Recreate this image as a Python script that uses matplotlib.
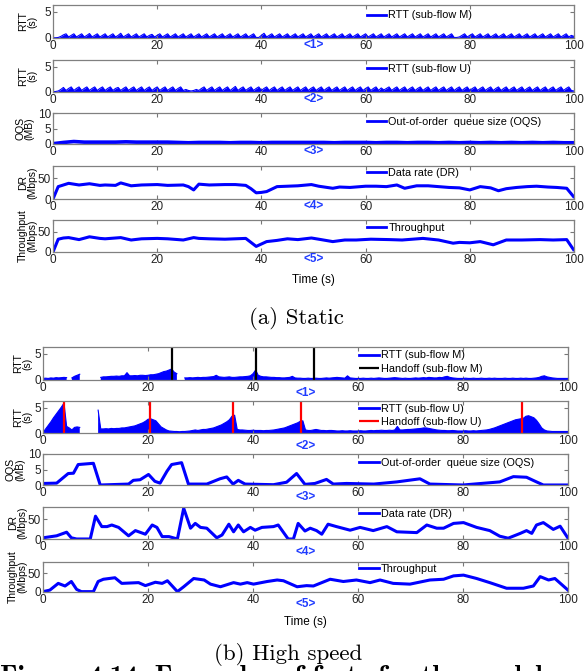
import numpy as np
import matplotlib.pyplot as plt
from matplotlib.lines import Line2D

plt.rcParams['font.family'] = ['Liberation Sans', 'DejaVu Sans']

# ---------------- (a) Static ----------------
# RTT samples every 0.5 s, 0..100 s
rtt_m_static = [
    0.05, 0.05, 0.1, 0.3, 0.6, 0.8, 0.2, 0.5, 0.8, 0.2, 0.5, 0.8, 0.2, 0.5, 0.85, 0.2, 0.5, 0.8, 0.2, 0.5,
    0.8, 0.2, 0.5, 0.8, 0.2, 0.5, 0.9, 0.2, 0.5, 0.8, 0.2, 0.5, 0.8, 0.2, 0.5, 0.8, 0.2, 0.5, 0.7, 0.2,
    0.5, 0.8, 0.2, 0.5, 0.8, 0.2, 0.5, 0.8, 0.2, 0.5, 0.8, 0.2, 0.5, 0.8, 0.2, 0.5, 0.8, 0.2, 0.5, 0.8,
    0.2, 0.5, 0.8, 0.2, 0.5, 0.8, 0.2, 0.5, 0.8, 0.2, 0.5, 0.8, 0.2, 0.5, 0.8, 0.2, 0.5, 0.8, 0.1, 0.1,
    0.5, 0.9, 0.2, 0.5, 0.8, 0.2, 0.5, 0.8, 0.2, 0.5, 0.8, 0.2, 0.5, 0.8, 0.2, 0.5, 0.8, 0.2, 0.5, 0.8,
    0.2, 0.5, 0.8, 0.2, 0.5, 0.8, 0.2, 0.5, 0.8, 0.2, 0.5, 0.8, 0.2, 0.5, 0.8, 0.2, 0.5, 0.8, 0.2, 0.5,
    0.8, 0.2, 0.5, 0.8, 0.2, 0.5, 0.8, 0.2, 0.5, 0.8, 0.2, 0.5, 0.8, 0.2, 0.5, 0.8, 0.2, 0.5, 0.8, 0.2,
    0.5, 0.8, 0.2, 0.5, 0.8, 0.2, 0.5, 0.8, 0.2, 0.5, 0.8, 0.2, 0.5, 0.8, 0.1, 0.1, 0.2, 0.5, 0.8, 0.2,
    0.5, 0.8, 0.2, 0.5, 0.8, 0.2, 0.5, 0.8, 0.2, 0.5, 0.8, 0.2, 0.5, 0.8, 0.2, 0.5, 0.8, 0.2, 0.5, 0.8,
    0.2, 0.5, 0.8, 0.2, 0.5, 0.8, 0.2, 0.5, 0.8, 0.2, 0.5, 0.8, 0.2, 0.5, 0.8, 0.2, 0.5, 0.8, 0.2, 0.5,
    0.3]
rtt_u_static = [
    0.05, 0.1, 0.2, 0.5, 0.9, 0.3, 0.7, 1.0, 0.3, 0.7, 1.0, 0.3, 0.7, 1.0, 0.3, 0.7, 1.0, 0.3, 0.7, 1.0,
    0.3, 0.7, 1.0, 0.3, 0.7, 0.9, 0.3, 0.7, 1.0, 0.3, 0.7, 1.0, 0.3, 0.7, 1.0, 0.3, 0.7, 1.0, 0.3, 0.7,
    1.0, 0.3, 0.7, 1.0, 0.3, 0.7, 1.0, 0.3, 0.7, 1.0, 0.3, 0.5, 0.3, 0.2, 0.3, 0.5, 0.3, 0.7, 1.0, 0.3,
    0.7, 1.0, 0.3, 0.7, 1.0, 0.3, 0.7, 1.0, 0.3, 0.7, 1.1, 0.3, 0.7, 1.0, 0.3, 0.7, 1.0, 0.3, 0.7, 1.0,
    0.3, 0.7, 1.0, 0.3, 0.7, 1.0, 0.3, 0.7, 1.0, 0.3, 0.7, 1.0, 0.3, 0.7, 1.0, 0.3, 0.7, 1.0, 0.3, 0.7,
    1.0, 0.3, 0.7, 1.0, 0.3, 0.7, 1.0, 0.3, 0.7, 1.0, 0.3, 0.7, 1.0, 0.3, 0.7, 1.0, 0.3, 0.7, 1.0, 0.3,
    0.7, 1.0, 0.3, 0.7, 1.0, 0.3, 0.8, 0.4, 0.7, 1.0, 0.3, 0.7, 1.0, 0.3, 0.7, 1.0, 0.3, 0.7, 1.0, 0.3,
    0.7, 1.0, 0.3, 0.7, 1.0, 0.3, 0.7, 1.0, 0.3, 0.7, 1.0, 0.3, 0.7, 1.0, 0.3, 0.7, 1.0, 0.3, 0.7, 1.0,
    0.3, 0.7, 1.0, 0.3, 0.7, 1.0, 0.3, 0.7, 1.0, 0.3, 0.7, 1.0, 0.3, 0.7, 1.0, 0.3, 0.7, 1.0, 0.3, 0.7,
    1.0, 0.3, 0.7, 1.0, 0.3, 0.7, 1.0, 0.3, 0.7, 1.0, 0.3, 0.7, 1.0, 0.3, 0.7, 1.0, 0.3, 0.7, 1.0, 0.3,
    0.2]

# OQS every 2 s
oqs_static = [0.1, 0.5, 0.8, 0.6, 0.6, 0.6, 0.6, 0.7, 0.6, 0.6, 0.6, 0.6, 0.5, 0.4, 0.5, 0.5, 0.5,
              0.4, 0.5, 0.5, 0.4, 0.5, 0.5, 0.5, 0.5, 0.5, 0.5, 0.4, 0.5, 0.5, 0.5, 0.4, 0.5, 0.5,
              0.4, 0.5, 0.5, 0.4, 0.5, 0.4, 0.5, 0.4, 0.5, 0.4, 0.5, 0.4, 0.5, 0.4, 0.5, 0.4, 0.4]

dr_static_t = [0, 1, 2, 3, 5, 7, 9, 10, 12, 13, 15, 17, 20, 22, 25, 26, 27, 28, 30, 33,
               35, 37, 38, 39, 40, 41, 43, 45, 47, 49.6, 51, 53.7, 55, 57, 60, 62, 64, 66, 67.5, 69.8,
               72, 74, 76, 78, 80, 82, 84, 85.5, 87, 89, 91, 92.8, 95, 96.7, 98.6, 99.9]
dr_static = [0, 30, 34, 38, 34, 37, 33, 34, 33, 39, 32, 34, 35, 33, 34, 30, 22, 36, 34, 35,
             35, 33, 25, 15, 16, 18, 30, 31, 32, 35, 31, 26, 29, 28, 31, 31, 30, 34, 26, 32,
             32, 30, 28, 27, 22, 30, 27, 20, 25, 28, 30, 31, 29, 28, 26, 6]

tp_static_t = [0, 1, 2, 3, 5, 7, 9, 10, 12, 13, 15, 17, 20, 22, 25, 27, 28, 30, 33, 35,
               37, 39, 41, 43, 45, 47, 49.6, 51, 53.7, 56, 58.2, 61, 64.6, 67, 71, 74, 76.8, 78, 80, 82,
               84.5, 87, 90, 93.5, 96, 98.6, 99.9]
tp_static = [0, 32, 35, 36, 31, 38, 34, 33, 35, 36, 30, 33, 34, 33, 30, 36, 34, 33, 32, 33,
             34, 14, 26, 29, 33, 31, 35, 32, 26, 30, 30, 32, 31, 30, 34, 30, 22, 24, 23, 26,
             18, 30, 30, 31, 30, 31, 6]

# ---------------- (b) High speed ----------------
nan = np.nan
rtt_m_speed = [
    0.3, 0.35, 0.3, 0.4, 0.35, 0.45, 0.4, 0.45, 0.5, 0.45, nan, 0.4, 0.7, 0.9, 1.1,
    nan, nan, nan, nan, nan, nan, nan,
    0.5, 0.6, 0.6, 0.65, 0.7, 0.7, 0.75, 0.7, 0.8, 0.8, 1.4, 0.8, 0.8, 0.85, 0.8,
    0.9, 0.9, 0.85, 0.9, 1.0, 1.0, 1.1, 1.2, 1.4, 1.6, 1.7, 1.9, 2.1, 1.5, 1.2,
    nan, nan,
    0.4, 0.4, 0.45, 0.4, 0.45, 0.5, 0.45, 0.5, 0.5, 0.55, 0.6, 0.65, 0.9, 0.6, 0.55, 0.5,
    0.55, 0.6, 0.5, 0.5, 0.55, 0.6, 0.6, 0.65, 0.7, 0.8,
    1.2, 1.9, 0.9, 0.7, 0.6, 0.6, 0.55, 0.5, 0.5, 0.45, 0.45, 0.4, 0.4, 0.45, 0.5, 0.7, 0.4, 0.35, 0.35, 0.3,
    0.3, 0.35, 0.3, 0.3, 0.35, 0.3, 0.3, 0.35, 0.4, 0.35, 0.4, 0.45, 0.5, 0.45, 0.4, 0.35, 0.8, 0.4, 0.35, 0.3,
    0.3, 0.3, 0.35, 0.3, 0.3, 0.35, 0.3, 0.35, 0.4, 0.35, 0.3, 0.3, 0.35, 0.4, 0.45, 0.4, 0.35, 0.3, 0.35, 0.3,
    0.3, 0.35, 0.4, 0.35, 0.4, 0.45, 0.4, 0.5, 0.45, 0.4, 0.4, 0.5, 0.45, 0.6, 0.7, 0.5, 0.4, 0.35, 0.3, 0.3,
    0.3, 0.35, 0.3, 0.3, 0.35, 0.3, 0.3, 0.35, 0.3, 0.3, 0.35, 0.3, 0.35, 0.3, 0.3, 0.3, 0.35, 0.3, 0.3, 0.35,
    0.3, 0.3, 0.35, 0.3, 0.35, 0.3, 0.3, 0.35, 0.4, 0.5, 0.7, 0.8, 0.6, 0.5, 0.4, 0.35, 0.3, 0.3, 0.3, 0.3,
    0.3]
rtt_u_speed = [
    0.1, 0.8, 1.5, 2.2, 3.0, 3.7, 4.4, 5.1, 5.9, 1.3, 1.0, 0.6, 1.1, 1.2, 1.1,
    nan, nan, nan, nan, nan, nan, 4.5, 0.8,
    0.8, 0.85, 0.8, 0.9, 0.85, 0.9, 0.9, 1.0, 1.0, 1.1, 1.2, 1.3, 1.4, 1.6, 1.8, 2.0, 2.3, 2.7,
    2.8, 2.6, 2.4, 1.8, 1.2, 0.9, 0.6, 0.4, 0.35, 0.3, 0.3, 0.25, 0.3, 0.3, 0.35, 0.4, 0.5, 0.6, 0.5,
    0.6, 0.7, 0.7, 0.8, 0.9, 1.0, 1.2, 1.4, 1.6, 1.9, 2.2, 2.6,
    3.3, 3.5, 0.7, 0.6,
    0.6, 0.55, 0.5, 0.5, 0.55, 0.5, 0.5, 0.5, 0.45, 0.5, 0.5, 0.55, 0.6, 0.7, 0.8, 0.9, 1.0, 1.2, 1.4, 1.6,
    1.8, 2.0, 2.3, 2.4, 0.6,
    0.5, 0.5, 0.6, 0.7, 0.6, 0.5, 0.5, 0.45, 0.5, 0.5, 0.45, 0.4, 0.4, 0.45, 0.4, 0.4, 0.45, 0.4, 0.4,
    0.4, 0.45, 0.4, 0.4, 0.45, 0.5, 0.45, 0.5, 0.5, 0.55, 0.5, 0.5, 0.55, 0.5, 0.6, 1.3, 0.6, 0.6, 0.65, 0.7,
    0.7, 0.75, 0.8, 0.85, 0.9, 1.0, 1.0, 0.9, 0.8, 0.7, 0.6, 0.55, 0.5, 0.5, 0.45, 0.45, 0.5, 0.45, 0.4, 0.4,
    0.4, 0.45, 0.4, 0.4, 0.45, 0.4, 0.45, 0.5, 0.55, 0.6, 0.7, 0.85, 1.0, 1.2, 1.4, 1.6, 1.8, 2.0, 2.2, 2.4,
    2.6, 2.7, 2.8, 2.9, 3.3, 3.4, 3.2, 3.0, 2.5, 1.8, 1.0, 0.6, 0.4, 0.35, 0.3, 0.3, 0.3, 0.3, 0.3, 0.3,
    0.3]
handoff_m = [24.5, 40.6, 51.6]
handoff_u = [4.0, 20.4, 36.1, 49.1, 91.2]

oqs_speed_t = [0, 2.6, 4.8, 5.8, 6.7, 9.6, 10.9, 16.3, 17.2, 18.5, 20.1, 21.3, 22.3, 23.6, 24.5,
               26.4, 27.7, 31.2, 33.7, 35, 36.2, 37.2, 38.5, 43.9, 46.4, 48.3, 49.9, 51.8, 54, 55.3,
               57.8, 63, 67.4, 71.8, 73.7, 80, 87, 89.6, 92.1, 94, 95.3, 100]
oqs_speed = [0.5, 0.6, 3.7, 3.8, 6.6, 7, 0, 0.3, 1.5, 1.7, 3.4, 1.2, 0.6, 4.4, 6.6,
             7.2, 0.3, 0.3, 2, 2.6, 0.3, 1.5, 0.3, 0.1, 0.9, 3.7, 0.2, 0.5, 1.8, 0.3,
             0.5, 0.3, 1, 2, 0.3, 0, 1, 2.7, 2.5, 1, 0, 0]

dr_speed_t = [0, 2.6, 4.5, 5.4, 6.4, 9, 10, 11.2, 12.2, 13.1, 14.4, 16.3, 17.6, 19.5, 20.8, 21.7,
              22.7, 24, 25.6, 26.8, 28.1, 29, 30, 31.2, 33.1, 34.1, 35.4, 36.3, 37.2, 38.2, 39.5,
              40.4, 41.7, 43.9, 44.8, 46.7, 47.7, 48.6, 49.9, 50.9, 52.1, 53.1, 54.3, 55.9, 58.5,
              60.4, 62.9, 65.5, 67.4, 71.2, 73.1, 75, 76.3, 78.2, 80.1, 82.6, 85.1, 87, 88.6, 90.9,
              92.1, 93.1, 94, 95.3, 97.2, 98.5, 100]
dr_speed = [3, 8, 17, 3, 0, 0, 57, 31, 31, 35, 29, 8, 21, 12, 35, 29,
            6, 6, 0, 77, 27, 39, 29, 27, 3, 10, 37, 18, 35, 18, 29,
            22, 29, 31, 35, 0, 0, 39, 20, 27, 21, 12, 37, 31, 22,
            29, 21, 31, 18, 16, 35, 27, 27, 39, 41, 29, 21, 7, 2, 14,
            21, 14, 35, 41, 24, 32, 2]

tp_speed_t = [0, 1.3, 2.9, 4.2, 5.4, 6.4, 7.3, 9.6, 10.5, 11.5, 13.7, 15, 18.2, 19.5, 21.4, 22.7,
              23.7, 25.6, 26.8, 28.7, 30.7, 31.9, 33.8, 36.3, 37.6, 38.9, 40.1, 42.7, 44.6, 45.8,
              48.4, 50.2, 51.5, 54.7, 57.2, 59.7, 62.3, 64.2, 66.7, 69.9, 73.7, 76.3, 78.2, 80.1,
              82.6, 85.1, 88.3, 91.5, 93.4, 94.7, 96.3, 97.5, 100]
tp_speed = [1, 5, 23, 16, 28, 7, 1, 1, 28, 34, 38, 23, 25, 17, 26, 23,
            30, 1, 14, 36, 32, 21, 14, 25, 21, 25, 21, 28, 32, 30,
            14, 17, 16, 34, 28, 32, 25, 32, 23, 21, 32, 34, 43, 45,
            36, 25, 10, 10, 16, 41, 32, 36, 5]

t_rtt_a = np.arange(len(rtt_m_static)) * 0.5
t_rtt_au = np.arange(len(rtt_u_static)) * 0.5
t_oqs_a = np.arange(len(oqs_static)) * 2.0
t_rtt_bm = np.arange(len(rtt_m_speed)) * 0.5
t_rtt_bu = np.arange(len(rtt_u_speed)) * 0.5

BLUE = '#0000ff'
TAG = '#1f3bff'
W, H = 588, 671

fig = plt.figure(figsize=(W / 100, H / 100), dpi=100)


def panel(l, r, top, bot, ylim, yticks, ylabel, tag, lab_x, tag_y, ysize=7.5):
    ax = fig.add_axes([l / W, 1 - bot / H, (r - l) / W, (bot - top) / H])
    ax.set_xlim(0, 100)
    ax.set_ylim(*ylim)
    ax.set_xticks([0, 20, 40, 60, 80, 100])
    ax.set_yticks(yticks)
    ax.tick_params(direction='in', top=True, right=True, length=3, width=0.8,
                   colors='#777777', labelcolor='#222222', labelsize=8.5, pad=1.5)
    for s in ax.spines.values():
        s.set_color('#808080')
        s.set_linewidth(0.9)
    ax.set_ylabel(ylabel, fontsize=ysize, linespacing=0.95)
    ax.yaxis.set_label_coords(lab_x, 0.5)
    ax.text(0.5, tag_y, tag, transform=ax.transAxes, ha='center', va='center',
            color=TAG, fontweight='bold', fontsize=8.5)
    return ax


def legend(ax, handles, y):
    ax.legend(handles=handles, loc='upper left', bbox_to_anchor=(0.6, y),
              frameon=False, fontsize=7.8, handlelength=1.8, handletextpad=0.2,
              borderpad=0.1, labelspacing=0.3, borderaxespad=0)


def blue_handle(label):
    return Line2D([], [], color=BLUE, lw=2, label=label)


# ---- group (a)
la, ra = 53, 574
ax = panel(la, ra, 5, 38, (0, 6.3), [0, 5], 'RTT\n(s)', '<1>', -0.03, -0.22)
ax.fill_between(t_rtt_a, 0, rtt_m_static, color=BLUE, lw=0)
ax.plot(t_rtt_a, rtt_m_static, color=BLUE, lw=0.8)
legend(ax, [blue_handle('RTT (sub-flow M)')], 0.87)

ax = panel(la, ra, 60, 92, (0, 6.3), [0, 5], 'RTT\n(s)', '<2>', -0.03, -0.22)
ax.fill_between(t_rtt_au, 0, rtt_u_static, color=BLUE, lw=0)
ax.plot(t_rtt_au, rtt_u_static, color=BLUE, lw=0.8)
legend(ax, [blue_handle('RTT (sub-flow U)')], 0.92)

ax = panel(la, ra, 113, 144, (0, 10), [0, 5, 10], 'OQS\n(MB)', '<3>', -0.035, -0.22)
ax.plot(t_oqs_a, oqs_static, color=BLUE, lw=2.6)
legend(ax, [blue_handle('Out-of-order  queue size (OQS)')], 0.9)

ax = panel(la, ra, 166, 199, (0, 80), [0, 50], 'DR\n(Mbps)', '<4>', -0.03, -0.22)
ax.plot(dr_static_t, dr_static, color=BLUE, lw=2.2)
legend(ax, [blue_handle('Data rate (DR)')], 0.98)

ax = panel(la, ra, 220, 252, (0, 80), [0, 50], 'Throughput\n(Mbps)', '<5>', -0.03, -0.22)
ax.plot(tp_static_t, tp_static, color=BLUE, lw=2.2)
legend(ax, [blue_handle('Throughput')], 0.95)
ax.text(0.5, -0.875, 'Time (s)', transform=ax.transAxes, ha='center', va='center', fontsize=8.5)

# ---- group (b)
lb, rb = 43, 568
ax = panel(lb, rb, 347, 380, (0, 6.3), [0, 5], 'RTT\n(s)', '<1>', -0.02, -0.4)
ax.fill_between(t_rtt_bm, 0, rtt_m_speed, color=BLUE, lw=0)
ax.plot(t_rtt_bm, rtt_m_speed, color=BLUE, lw=0.8)
hk = ax.vlines(handoff_m, 0, 6.3, color='black', lw=1.6, label='Handoff (sub-flow M)')
legend(ax, [blue_handle('RTT (sub-flow M)'), hk], 0.93)

ax = panel(lb, rb, 401, 433, (0, 6.3), [0, 5], 'RTT\n(s)', '<2>', -0.02, -0.4)
ax.fill_between(t_rtt_bu, 0, rtt_u_speed, color=BLUE, lw=0)
ax.plot(t_rtt_bu, rtt_u_speed, color=BLUE, lw=0.8)
hr = ax.vlines(handoff_u, 0, 6.3, color='red', lw=1.6, label='Handoff (sub-flow U)')
legend(ax, [blue_handle('RTT (sub-flow U)'), hr], 0.95)

ax = panel(lb, rb, 454, 485, (0, 10), [0, 5, 10], 'OQS\n(MB)', '<3>', -0.034, -0.4)
ax.plot(oqs_speed_t, oqs_speed, color=BLUE, lw=2.2)
legend(ax, [blue_handle('Out-of-order  queue size (OQS)')], 0.9)

ax = panel(lb, rb, 507, 539, (0, 80), [0, 50], 'DR\n(Mbps)', '<4>', -0.03, -0.4)
ax.plot(dr_speed_t, dr_speed, color=BLUE, lw=2.2)
legend(ax, [blue_handle('Data rate (DR)')], 0.98)

ax = panel(lb, rb, 562, 592, (0, 80), [0, 50], 'Throughput\n(Mbps)', '<5>', -0.03, -0.4)
ax.plot(tp_speed_t, tp_speed, color=BLUE, lw=2.2)
legend(ax, [blue_handle('Throughput')], 0.98)
ax.text(0.5, -1.0, 'Time (s)', transform=ax.transAxes, ha='center', va='center', fontsize=8.5)

# captions
fig.text(296 / W, 1 - 318 / H, '(a) Static', family='cmr10', fontsize=16.5, ha='center', va='center')
fig.text(288 / W, 1 - 655 / H, '(b) High speed', family='cmr10', fontsize=16.5, ha='center', va='center')
fig.text(0.0, 1 - 665 / H, 'Figure 4.14: Examples of facts for the model', family='cmb10',
         fontsize=20, ha='left', va='top')

fig.savefig('out.png', dpi=100)
